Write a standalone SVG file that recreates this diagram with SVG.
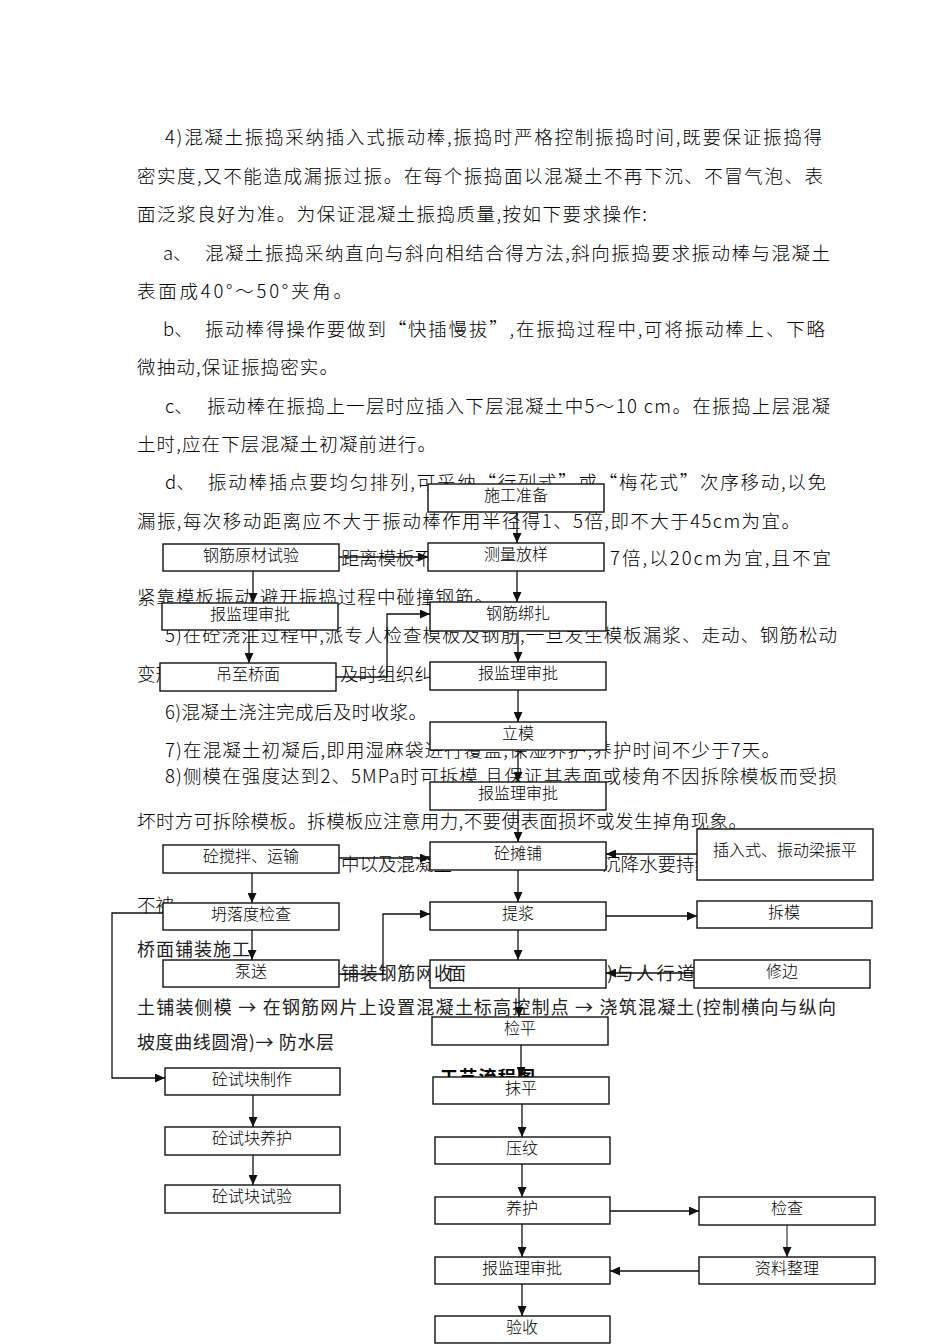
<svg xmlns="http://www.w3.org/2000/svg" width="950" height="1344" viewBox="0 0 950 1344">
<defs>
<style>
.t{font-family:"Noto Sans CJK SC","Noto Sans",sans-serif;font-size:18.5px;font-weight:300;fill:#000}
.s{font-family:"Noto Sans CJK SC","Noto Sans",sans-serif;font-size:18px;font-weight:400;fill:#222}
.b{font-family:"Noto Sans CJK SC","Noto Sans",sans-serif;font-size:18px;font-weight:700;fill:#000}
.box{fill:#fff;stroke:#111;stroke-width:1.4}
.lb{font-family:"Noto Sans CJK SC","Noto Sans",sans-serif;font-size:16px;font-weight:300;fill:#000;text-anchor:middle}
.c{fill:none;stroke:#111;stroke-width:1.3;marker-end:url(#ah)}
</style>
<marker id="ah" markerUnits="userSpaceOnUse" markerWidth="10" markerHeight="9" refX="10" refY="4.5" orient="auto">
<path d="M0,0 L10,4.5 L0,9 z" fill="#111"/>
</marker>
</defs>
<rect width="950" height="1344" fill="#fff"/>
<g id="page-text">
<text class="t" x="165" y="144" textLength="657" lengthAdjust="spacing">4)混凝土振捣采纳插入式振动棒,振捣时严格控制振捣时间,既要保证振捣得</text>
<text class="t" x="137" y="183" textLength="686" lengthAdjust="spacing">密实度,又不能造成漏振过振。在每个振捣面以混凝土不再下沉、不冒气泡、表</text>
<text class="t" x="137" y="221" textLength="510" lengthAdjust="spacing">面泛浆良好为准。为保证混凝土振捣质量,按如下要求操作:</text>
<text class="t" x="163" y="260">a、</text>
<text class="t" x="205" y="260" textLength="625" lengthAdjust="spacing">混凝土振捣采纳直向与斜向相结合得方法,斜向振捣要求振动棒与混凝土</text>
<text class="t" x="137" y="298" textLength="215" lengthAdjust="spacing">表面成40°～50°夹角。</text>
<text class="t" x="163" y="336">b、</text>
<text class="t" x="205" y="336" textLength="620" lengthAdjust="spacing">振动棒得操作要做到“快插慢拔”,在振捣过程中,可将振动棒上、下略</text>
<text class="t" x="137" y="374" textLength="201" lengthAdjust="spacing">微抽动,保证振捣密实。</text>
<text class="t" x="165" y="413">c、</text>
<text class="t" x="207" y="413" textLength="623" lengthAdjust="spacing">振动棒在振捣上一层时应插入下层混凝土中5～10 cm。在振捣上层混凝</text>
<text class="t" x="137" y="451" textLength="299" lengthAdjust="spacing">土时,应在下层混凝土初凝前进行。</text>
<text class="t" x="165" y="489">d、</text>
<text class="t" x="208" y="489" textLength="618" lengthAdjust="spacing">振动棒插点要均匀排列,可采纳“行列式”或“梅花式”次序移动,以免</text>
<text class="t" x="137" y="528" textLength="663" lengthAdjust="spacing">漏振,每次移动距离应不大于振动棒作用半径得1、5倍,即不大于45cm为宜。</text>
<text class="t" x="341" y="565" textLength="92" lengthAdjust="spacing">距离模板不</text>
<text class="t" x="610" y="565" textLength="221" lengthAdjust="spacing">7倍,以20cm为宜,且不宜</text>
<text class="t" x="137" y="604" textLength="356" lengthAdjust="spacing">紧靠模板振动,避开振捣过程中碰撞钢筋。</text>
<text class="t" x="165" y="642" textLength="672" lengthAdjust="spacing">5)在砼浇注过程中,派专人检查模板及钢筋,一旦发生模板漏浆、走动、钢筋松动</text>
<text class="t" x="137" y="681">变形</text>
<text class="t" x="340" y="681" textLength="93" lengthAdjust="spacing">及时组织纠</text>
<text class="t" x="165" y="719" textLength="262" lengthAdjust="spacing">6)混凝土浇注完成后及时收浆。</text>
<text class="t" x="165" y="757" textLength="615" lengthAdjust="spacing">7)在混凝土初凝后,即用湿麻袋进行覆盖,保湿养护,养护时间不少于7天。</text>
<text class="t" x="165" y="783" textLength="672" lengthAdjust="spacing">8)侧模在强度达到2、5MPa时可拆模,且保证其表面或棱角不因拆除模板而受损</text>
<text class="t" x="137" y="828" textLength="610" lengthAdjust="spacing">坏时方可拆除模板。拆模板应注意用力,不要使表面损坏或发生掉角现象。</text>
<text class="t" x="341" y="871" textLength="111" lengthAdjust="spacing">中以及混凝土</text>
<text class="t" x="602" y="871" textLength="111" lengthAdjust="spacing">沉降水要持续</text>
<text class="t" x="137" y="912">不被</text>
<text class="s" x="137" y="956" textLength="113" lengthAdjust="spacing">桥面铺装施工</text>
<text class="s" x="341" y="980" textLength="93" lengthAdjust="spacing">铺装钢筋网</text>
<text class="s" x="607" y="980" textLength="88" lengthAdjust="spacing">)与人行道</text>
<text class="s" x="137" y="1014" textLength="699" lengthAdjust="spacing">土铺装侧模 → 在钢筋网片上设置混凝土标高控制点 → 浇筑混凝土(控制横向与纵向</text>
<text class="s" x="137" y="1049" textLength="197" lengthAdjust="spacing">坡度曲线圆滑)→ 防水层</text>
<text class="b" x="440" y="1084" textLength="95" lengthAdjust="spacing">工艺流程图</text>
</g>
<g id="n1"><rect class="box" x="428" y="484" width="176" height="28"/><text class="lb" x="516" y="501">施工准备</text></g>
<g id="n2"><rect class="box" x="428" y="543" width="176" height="28"/><text class="lb" x="516" y="560">测量放样</text></g>
<g id="n3"><rect class="box" x="430" y="602" width="176" height="29"/><text class="lb" x="518" y="619">钢筋绑扎</text></g>
<g id="n4"><rect class="box" x="430" y="662" width="176" height="28"/><text class="lb" x="518" y="679">报监理审批</text></g>
<g id="n5"><rect class="box" x="430" y="722" width="176" height="28"/><text class="lb" x="518" y="739">立模</text></g>
<g id="n6"><rect class="box" x="430" y="782" width="176" height="28"/><text class="lb" x="518" y="799">报监理审批</text></g>
<g id="n7"><rect class="box" x="430" y="842" width="176" height="28"/><text class="lb" x="518" y="859">砼摊铺</text></g>
<g id="n8"><rect class="box" x="697" y="829" width="176" height="51"/><text class="lb" x="785" y="856">插入式、振动梁振平</text></g>
<g id="n9"><rect class="box" x="430" y="902" width="176" height="28"/><text class="lb" x="518" y="919">提浆</text></g>
<g id="n10"><rect class="box" x="697" y="901" width="175" height="27"/><text class="lb" x="784" y="918">拆模</text></g>
<g id="n11"><rect class="box" x="430" y="960" width="176" height="28"/><text class="s" x="434" y="980" textLength="32" lengthAdjust="spacing">收面</text></g>
<g id="n12"><rect class="box" x="694" y="960" width="176" height="28"/><text class="lb" x="782" y="977">修边</text></g>
<g id="n13"><rect class="box" x="432" y="1017" width="176" height="28"/><text class="lb" x="520" y="1034">检平</text></g>
<g id="n14"><rect class="box" x="433" y="1077" width="176" height="27"/><text class="lb" x="521" y="1094">抹平</text></g>
<g id="n15"><rect class="box" x="435" y="1137" width="175" height="27"/><text class="lb" x="522" y="1154">压纹</text></g>
<g id="n16"><rect class="box" x="435" y="1197" width="175" height="27"/><text class="lb" x="522" y="1214">养护</text></g>
<g id="n17"><rect class="box" x="699" y="1197" width="176" height="28"/><text class="lb" x="787" y="1214">检查</text></g>
<g id="n18"><rect class="box" x="435" y="1257" width="175" height="27"/><text class="lb" x="522" y="1274">报监理审批</text></g>
<g id="n19"><rect class="box" x="699" y="1257" width="176" height="27"/><text class="lb" x="787" y="1274">资料整理</text></g>
<g id="n20"><rect class="box" x="435" y="1316" width="175" height="27"/><text class="lb" x="522" y="1333">验收</text></g>
<g id="m1"><rect class="box" x="163" y="544" width="176" height="27"/><text class="lb" x="251" y="561">钢筋原材试验</text></g>
<g id="m2"><rect class="box" x="162" y="603" width="176" height="27"/><text class="lb" x="250" y="620">报监理审批</text></g>
<g id="m3"><rect class="box" x="160" y="663" width="176" height="28"/><text class="lb" x="248" y="680">吊至桥面</text></g>
<g id="m4"><rect class="box" x="163" y="845" width="176" height="28"/><text class="lb" x="251" y="862">砼搅拌、运输</text></g>
<g id="m5"><rect class="box" x="163" y="903" width="176" height="27"/><text class="lb" x="251" y="920">坍落度检查</text></g>
<g id="m6"><rect class="box" x="163" y="960" width="176" height="27"/><text class="lb" x="251" y="977">泵送</text></g>
<g id="m7"><rect class="box" x="165" y="1068" width="175" height="27"/><text class="lb" x="252" y="1085">砼试块制作</text></g>
<g id="m8"><rect class="box" x="165" y="1127" width="175" height="28"/><text class="lb" x="252" y="1144">砼试块养护</text></g>
<g id="m9"><rect class="box" x="165" y="1185" width="175" height="28"/><text class="lb" x="252" y="1202">砼试块试验</text></g>
<g id="connectors">
<path class="c" d="M517 512 V543"/>
<path class="c" d="M517 571 V602"/>
<path class="c" d="M518 631 V662"/>
<path class="c" d="M518 690 V722"/>
<path class="c" d="M518 750 V782"/>
<path class="c" d="M518 810 V842"/>
<path class="c" d="M518 870 V902"/>
<path class="c" d="M518 930 V960"/>
<path class="c" d="M519 988 V1017"/>
<path class="c" d="M521 1045 V1077"/>
<path class="c" d="M522 1104 V1137"/>
<path class="c" d="M522 1164 V1197"/>
<path class="c" d="M522 1224 V1257"/>
<path class="c" d="M522 1284 V1316"/>
<path class="c" d="M610 1211 H699"/>
<path class="c" d="M787 1225 V1257" style="stroke-width:1"/>
<path class="c" d="M699 1271 H610"/>
<path class="c" d="M697 854 H606"/>
<path class="c" d="M606 916 H697"/>
<path class="c" d="M694 973 H606"/>
<path class="c" d="M339 557 H428"/>
<path class="c" d="M253 571 V603"/>
<path class="c" d="M249 630 V663"/>
<path class="c" d="M336 677 H387 V614 H430"/>
<path class="c" d="M339 858 H430"/>
<path class="c" d="M252 873 V903"/>
<path class="c" d="M252 930 V960"/>
<path class="c" d="M339 974 H383 V914 H430"/>
<path class="c" d="M163 913 H112 V1078 H165"/>
<path class="c" d="M253 1095 V1127"/>
<path class="c" d="M253 1155 V1185"/>
</g>
</svg>
